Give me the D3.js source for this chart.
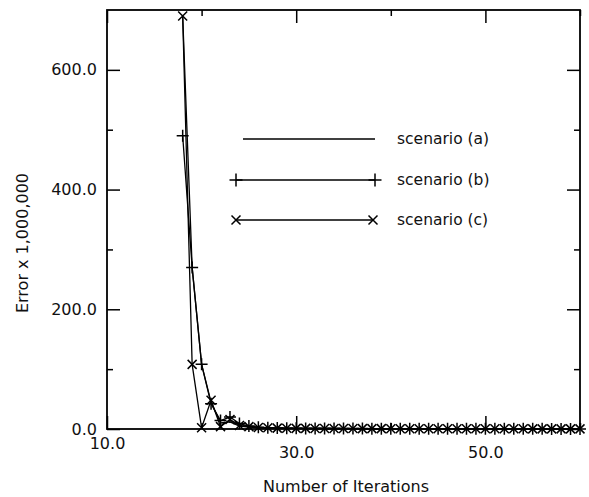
<!DOCTYPE html>
<html>
<head>
<meta charset="utf-8">
<script src="https://cdn.jsdelivr.net/npm/d3@7"></script>
<style>
  body { margin: 0; background: #fff; }
  svg { display: block; font-family: "DejaVu Sans", sans-serif; }
  text { font-family: "DejaVu Sans", sans-serif; fill: #111; }
  .tick-label { font-size: 16px; }
</style>
</head>
<body>
<svg id="chart" width="589" height="497"></svg>
<script>
// Data
const iterations = [18, 19, 20, 21, 22, 23, 24, 25, 26, 27, 28, 29, 30, 31, 32, 33, 34, 35, 36, 37, 38,
  39, 40, 41, 42, 43, 44, 45, 46, 47, 48, 49, 50, 51, 52, 53, 54, 55, 56, 57, 58, 59, 60];
const scenarioA = [690, 270, 108, 45, 10, 12, 5, 3, 2, 1.5, 1.2, 1, 1, 0.9, 0.8, 0.8, 0.7, 0.7, 0.6, 0.6, 0.6,
  0.5, 0.5, 0.5, 0.5, 0.4, 0.4, 0.4, 0.4, 0.4, 0.3, 0.3, 0.3, 0.3, 0.3, 0.3, 0.2, 0.2, 0.2, 0.2, 0.2, 0.2, 0.2];
const scenarioB = [490, 270, 108, 42, 14, 20, 9, 5, 3, 2, 1.6, 1.3, 1.1, 1, 0.9, 0.9, 0.8, 0.8, 0.7, 0.7, 0.6,
  0.6, 0.6, 0.5, 0.5, 0.5, 0.5, 0.4, 0.4, 0.4, 0.4, 0.4, 0.3, 0.3, 0.3, 0.3, 0.3, 0.3, 0.3, 0.2, 0.2, 0.2, 0.2];
const scenarioC = [690, 108, 2, 48, 4, 16, 6, 4, 2.5, 2, 1.5, 1.2, 1, 1, 0.9, 0.8, 0.8, 0.7, 0.7, 0.6, 0.6,
  0.6, 0.5, 0.5, 0.5, 0.5, 0.4, 0.4, 0.4, 0.4, 0.4, 0.3, 0.3, 0.3, 0.3, 0.3, 0.3, 0.2, 0.2, 0.2, 0.2, 0.2, 0.2];

const xMajorTicks = [10, 30, 50];
const xMinorTicks = [20, 40, 60];
const yMajorTicks = [0, 200, 400, 600];
const yMinorTicks = [100, 300, 500];

const legendLabels = ["scenario (a)", "scenario (b)", "scenario (c)"];

// Layout
const plot = { left: 107, right: 580, top: 10, bottom: 429 };

const svg = d3.select("#chart");

const x = d3.scaleLinear().domain([10, 60]).range([plot.left, plot.right]);
const y = d3.scaleLinear().domain([0, 700]).range([plot.bottom, plot.top]);

// Marker shapes
function plusPath(cx, cy, r) {
  return `M${cx - r},${cy}H${cx + r}M${cx},${cy - r}V${cy + r}`;
}
function crossPath(cx, cy, r) {
  return `M${cx - r},${cy - r}L${cx + r},${cy + r}M${cx - r},${cy + r}L${cx + r},${cy - r}`;
}

// Frame
svg.append("rect")
  .attr("x", plot.left)
  .attr("y", plot.top)
  .attr("width", plot.right - plot.left)
  .attr("height", plot.bottom - plot.top)
  .attr("fill", "none")
  .attr("stroke", "#000")
  .attr("stroke-width", 1.8);

// Axes: inward ticks on all sides, major long, minor short
function styleAxis(g) {
  g.attr("font-size", null).attr("font-family", null);
  g.select(".domain").remove();
  g.selectAll(".tick line").attr("stroke", "#000").attr("stroke-width", 1.5);
  g.selectAll(".tick text").attr("class", "tick-label").attr("fill", "#111");
}

const majorLen = 13;
const minorLen = 6;

svg.append("g")
  .attr("transform", `translate(0,${plot.bottom})`)
  .call(d3.axisBottom(x).tickValues(xMajorTicks).tickSize(-majorLen).tickPadding(17)
    .tickFormat((d) => d.toFixed(1)))
  .call(styleAxis)
  .call((g) => g.selectAll(".tick text").attr("y", (d) => (d === 10 ? 9 : 18)));

svg.append("g")
  .attr("transform", `translate(0,${plot.bottom})`)
  .call(d3.axisBottom(x).tickValues(xMinorTicks).tickSize(-minorLen).tickFormat(""))
  .call(styleAxis);

svg.append("g")
  .attr("transform", `translate(0,${plot.top})`)
  .call(d3.axisTop(x).tickValues(xMajorTicks).tickSize(-majorLen).tickFormat(""))
  .call(styleAxis);

svg.append("g")
  .attr("transform", `translate(0,${plot.top})`)
  .call(d3.axisTop(x).tickValues(xMinorTicks).tickSize(-minorLen).tickFormat(""))
  .call(styleAxis);

svg.append("g")
  .attr("transform", `translate(${plot.left},0)`)
  .call(d3.axisLeft(y).tickValues(yMajorTicks).tickSize(-majorLen).tickPadding(10)
    .tickFormat((d) => d.toFixed(1)))
  .call(styleAxis);

svg.append("g")
  .attr("transform", `translate(${plot.left},0)`)
  .call(d3.axisLeft(y).tickValues(yMinorTicks).tickSize(-minorLen).tickFormat(""))
  .call(styleAxis);

svg.append("g")
  .attr("transform", `translate(${plot.right},0)`)
  .call(d3.axisRight(y).tickValues(yMajorTicks).tickSize(-majorLen).tickFormat(""))
  .call(styleAxis);

svg.append("g")
  .attr("transform", `translate(${plot.right},0)`)
  .call(d3.axisRight(y).tickValues(yMinorTicks).tickSize(-minorLen).tickFormat(""))
  .call(styleAxis);

// Axis titles
svg.append("text")
  .attr("x", 346)
  .attr("y", 492)
  .attr("text-anchor", "middle")
  .attr("font-size", 16)
  .text("Number of Iterations");

svg.append("text")
  .attr("transform", "translate(28,243) rotate(-90)")
  .attr("text-anchor", "middle")
  .attr("font-size", 16)
  .text("Error x 1,000,000");

// Series
const line = d3.line()
  .x((d) => x(d[0]))
  .y((d) => y(d[1]));

const series = [
  { values: scenarioA, marker: null },
  { values: scenarioB, marker: plusPath, r: 6 },
  { values: scenarioC, marker: crossPath, r: 4.5 },
];

series.forEach((s) => {
  const pts = iterations.map((it, i) => [it, s.values[i]]);
  svg.append("path")
    .datum(pts)
    .attr("d", line)
    .attr("fill", "none")
    .attr("stroke", "#000")
    .attr("stroke-width", 1.3);
  if (s.marker) {
    svg.append("g")
      .selectAll("path")
      .data(pts)
      .join("path")
      .attr("d", (d) => s.marker(x(d[0]), y(d[1]), s.r))
      .attr("fill", "none")
      .attr("stroke", "#000")
      .attr("stroke-width", 1.5);
  }
});

// Legend
const legendRows = [
  { y: 139, x0: 243, x1: 375, marker: null },
  { y: 180, x0: 236, x1: 375, marker: plusPath, r: 6.5 },
  { y: 220, x0: 236, x1: 373, marker: crossPath, r: 4.5 },
];

const legend = svg.append("g");
legendRows.forEach((row, i) => {
  legend.append("line")
    .attr("x1", row.x0).attr("x2", row.x1)
    .attr("y1", row.y).attr("y2", row.y)
    .attr("stroke", "#000")
    .attr("stroke-width", 1.3);
  if (row.marker) {
    [row.x0, row.x1].forEach((mx) => {
      legend.append("path")
        .attr("d", row.marker(mx, row.y, row.r))
        .attr("fill", "none")
        .attr("stroke", "#000")
        .attr("stroke-width", 1.5);
    });
  }
  legend.append("text")
    .attr("x", 397)
    .attr("y", row.y)
    .attr("dy", "0.35em")
    .attr("font-size", 15.5)
    .text(legendLabels[i]);
});
</script>
</body>
</html>
